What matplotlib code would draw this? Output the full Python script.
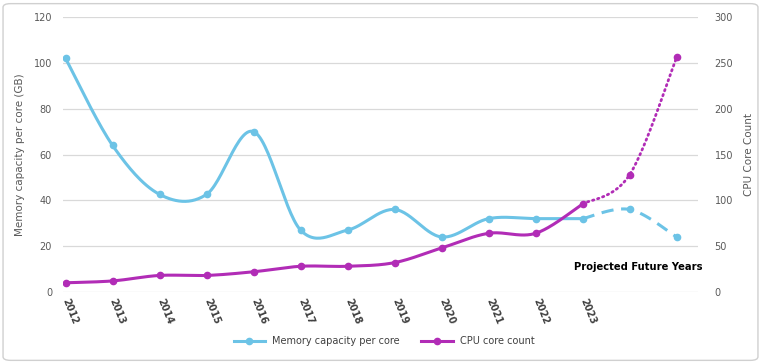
import matplotlib.pyplot as plt
import numpy as np
from matplotlib.patches import FancyBboxPatch
from matplotlib.lines import Line2D

# data
year_labels = ['2012', '2013', '2014', '2015', '2016', '2017', '2018', '2019',
               '2020', '2021', '2022', '2023', '', '']
memory_per_core = [102, 64, 42.6, 42.6, 70, 27, 27, 36, 24, 32, 32, 32, 36, 24]
cpu_cores = [10, 12, 18, 18, 22, 28, 28, 32, 48, 64, 64, 96, 128, 256]
last_actual = 11  # index of 2023, the rest is projected

blue = '#6CC3E6'
purple = '#B12CB6'


def smooth(xs, ys, n=30):
    # Catmull-Rom style smoothing, like Excel's "smoothed line"
    xs = np.asarray(xs, float)
    ys = np.asarray(ys, float)
    px = np.concatenate([[xs[0]], xs, [xs[-1]]])
    py = np.concatenate([[ys[0]], ys, [ys[-1]]])
    outx, outy = [], []
    t = np.linspace(0, 1, n)
    for i in range(1, len(px) - 2):
        p0 = np.array([px[i], py[i]])
        p3 = np.array([px[i + 1], py[i + 1]])
        c1 = p0 + (np.array([px[i + 1], py[i + 1]]) - np.array([px[i - 1], py[i - 1]])) / 6
        c2 = p3 - (np.array([px[i + 2], py[i + 2]]) - np.array([px[i], py[i]])) / 6
        b = ((1 - t) ** 3)[:, None] * p0 + (3 * (1 - t) ** 2 * t)[:, None] * c1 \
            + (3 * (1 - t) * t ** 2)[:, None] * c2 + (t ** 3)[:, None] * p3
        outx.extend(b[:, 0])
        outy.extend(b[:, 1])
    return outx, outy


x = np.arange(len(year_labels))

fig = plt.figure(figsize=(7.61, 3.64), dpi=100)
fig.patches.append(FancyBboxPatch((0.004, 0.01), 0.992, 0.98, boxstyle='round,pad=0,rounding_size=0.01',
                                  transform=fig.transFigure, facecolor='none',
                                  edgecolor='#D0D0D0', linewidth=1, zorder=-1))
ax = fig.add_axes([0.083, 0.198, 0.834, 0.755])
ax2 = ax.twinx()

# memory capacity per core (left axis)
sx, sy = smooth(x[:last_actual + 1], memory_per_core[:last_actual + 1])
ax.plot(sx, sy, color=blue, lw=2.2, solid_capstyle='round')
sx, sy = smooth(x[last_actual:], memory_per_core[last_actual:])
ax.plot(sx, sy, color=blue, lw=2.2, ls=(0, (4, 2.5)))
ax.plot(x, memory_per_core, 'o', color=blue, ms=4.5)

# CPU core count (right axis)
sx, sy = smooth(x[:last_actual + 1], cpu_cores[:last_actual + 1])
ax2.plot(sx, sy, color=purple, lw=2.2, solid_capstyle='round')
sx, sy = smooth(x[last_actual:], cpu_cores[last_actual:])
ax2.plot(sx, sy, color=purple, lw=2.0, ls=(0, (0.5, 1.4)), dash_capstyle='round')
ax2.plot(x, cpu_cores, 'o', color=purple, ms=4.5)

ax.set_xlim(-0.05, 13.45)
ax.set_ylim(0, 120)
ax2.set_ylim(0, 300)
ax.set_yticks(range(0, 121, 20))
ax2.set_yticks(range(0, 301, 50))
ax.grid(axis='y', color='#D9D9D9', lw=0.9)
ax.set_axisbelow(True)
for a in (ax, ax2):
    for s in a.spines.values():
        s.set_visible(False)
    a.tick_params(length=0, labelsize=7, labelcolor='#595959')
ax.tick_params(axis='y', pad=8)
ax2.tick_params(axis='y', pad=12)

ax.set_xticks(x)
ax.set_xticklabels(year_labels, rotation=-68, ha='left', va='center',
                   rotation_mode='anchor', fontsize=7, fontweight='bold', color='#404040')
ax.tick_params(axis='x', pad=5)

ax.set_ylabel('Memory capacity per core (GB)', fontsize=7.5, color='#595959', labelpad=6)
ax2.set_ylabel('CPU Core Count', fontsize=7.5, color='#595959', labelpad=8)

ax.text(13.55, 11, 'Projected Future Years', ha='right', va='center',
        fontsize=7.2, fontweight='bold', color='black')

handles = [Line2D([], [], color=blue, lw=2.2, marker='o', ms=4.5),
           Line2D([], [], color=purple, lw=2.2, marker='o', ms=4.5)]
fig.legend(handles, ['Memory capacity per core', 'CPU core count'], loc='center',
           bbox_to_anchor=(0.505, 0.063), ncol=2, frameon=False, fontsize=7,
           handlelength=3.2, columnspacing=2.2, labelcolor='#404040')

fig.savefig('out.png', dpi=100)
